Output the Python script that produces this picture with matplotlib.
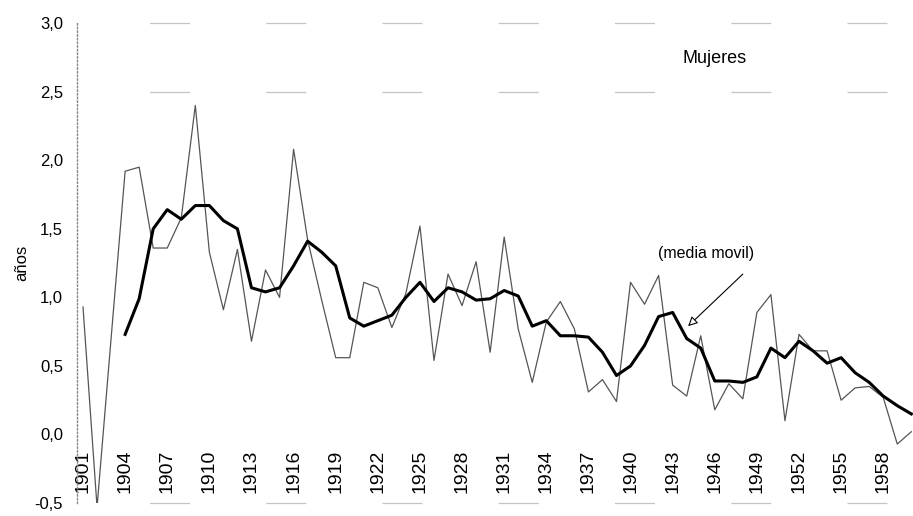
import matplotlib
matplotlib.use('Agg')
import matplotlib.pyplot as plt
from matplotlib.ticker import FuncFormatter

# years covered by the series
years = list(range(1901, 1961))

# annual values (thin grey line)
anual = [0.93, -0.53, 0.70, 1.92, 1.95, 1.36, 1.36, 1.58, 2.40, 1.33,
         0.91, 1.35, 0.68, 1.20, 1.00, 2.08, 1.42, 0.98, 0.56, 0.56,
         1.11, 1.07, 0.78, 1.03, 1.52, 0.54, 1.17, 0.94, 1.26, 0.60,
         1.44, 0.77, 0.38, 0.82, 0.97, 0.77, 0.31, 0.40, 0.24, 1.11,
         0.95, 1.16, 0.36, 0.28, 0.72, 0.18, 0.37, 0.26, 0.89, 1.02,
         0.10, 0.73, 0.61, 0.61, 0.25, 0.34, 0.35, 0.27, -0.07, 0.02]

# moving average (thick black line), starts in 1904
years_mm = list(range(1904, 1961))
media_movil = [0.73, 0.99, 1.50, 1.64, 1.57, 1.67, 1.67, 1.56, 1.50, 1.07,
               1.04, 1.07, 1.23, 1.41, 1.33, 1.23, 0.85, 0.79, 0.83, 0.87,
               1.00, 1.11, 0.97, 1.07, 1.04, 0.98, 0.99, 1.05, 1.01, 0.79,
               0.83, 0.72, 0.72, 0.71, 0.60, 0.43, 0.50, 0.65, 0.86, 0.89,
               0.70, 0.63, 0.39, 0.39, 0.38, 0.42, 0.63, 0.56, 0.68, 0.61,
               0.52, 0.56, 0.45, 0.38, 0.28, 0.21, 0.15]

xticks = list(range(1901, 1959, 3))
yticks = [-0.5, 0.0, 0.5, 1.0, 1.5, 2.0, 2.5, 3.0]

plt.rcParams['font.family'] = ['Liberation Sans', 'DejaVu Sans']

fig = plt.figure(figsize=(9.13, 5.16), dpi=100)
ax = fig.add_axes([0.0843, 0.0252, 0.9157, 0.9298])

# x axis sits on the zero line (set before the tick labels, it resets ticks)
ax.spines['bottom'].set_position(('data', 0))
ax.spines['bottom'].set_visible(False)
ax.spines['top'].set_visible(False)
ax.spines['right'].set_visible(False)
ax.spines['left'].set_color('#888888')
ax.spines['left'].set_linestyle(':')
ax.spines['left'].set_linewidth(1)

# faint, broken grid lines like the scanned original
for yv in [3.0, 2.5, -0.5]:
    ax.axhline(yv, color='#c4c4c4', lw=0.9, ls=(35, (32, 61)), zorder=0,
               clip_on=False)

ax.plot(years, anual, color='#555555', lw=0.9)
ax.plot(years_mm, media_movil, color='black', lw=2.2)

ax.set_xlim(1900.57, 1960.12)
ax.set_ylim(-0.5, 3.0)
ax.set_yticks(yticks)
ax.yaxis.set_major_formatter(FuncFormatter(lambda v, p: f"{v:.1f}".replace('.', ',')))
ax.set_xticks(xticks)
ax.set_xticklabels([str(y) for y in xticks], rotation=90, fontsize=14)
ax.tick_params(axis='y', length=0, pad=10, labelsize=12)
ax.tick_params(axis='x', length=0, pad=11)

ax.set_ylabel('años', fontsize=12, labelpad=4)

ax.text(1946.0, 2.74, 'Mujeres', fontsize=13, ha='center', va='center')
ax.text(1945.4, 1.32, '(media movil)', fontsize=11.5, ha='center', va='center')
ax.annotate('', xy=(1944.1, 0.79), xytext=(1948.0, 1.17),
            arrowprops=dict(arrowstyle='-|>', color='black', lw=0.8,
                            fc='white', mutation_scale=14,
                            shrinkA=0, shrinkB=0))

fig.savefig('out.png', dpi=100)
